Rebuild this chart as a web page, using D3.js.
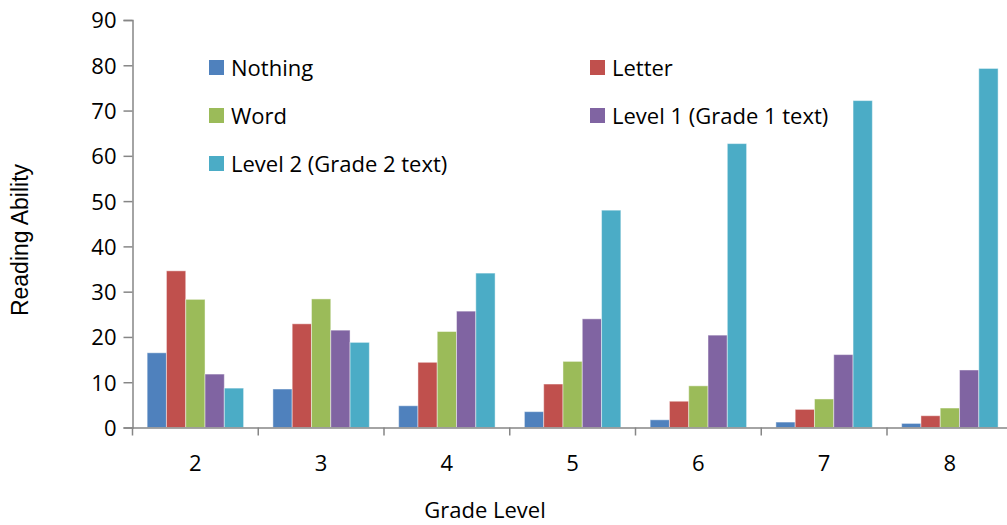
<!DOCTYPE html>
<html>
<head>
<meta charset="utf-8">
<script src="https://cdn.jsdelivr.net/npm/d3@7"></script>
<style>
  body { margin: 0; background: #fff; }
  text { font-family: "Open Sans", sans-serif; fill: #000; }
</style>
</head>
<body>
<svg id="chart"></svg>
<script>
const grades = ["2", "3", "4", "5", "6", "7", "8"];
const series = ["Nothing", "Letter", "Word", "Level 1 (Grade 1 text)", "Level 2 (Grade 2 text)"];
const colors = ["#4F81BD", "#C0504D", "#9BBB59", "#8064A2", "#4BACC6"];

const nothing = [16.5, 8.5, 4.8, 3.5, 1.7, 1.2, 0.9];
const letter  = [34.6, 22.9, 14.4, 9.6, 5.8, 4.0, 2.6];
const word    = [28.3, 28.4, 21.2, 14.6, 9.2, 6.3, 4.3];
const level1  = [11.8, 21.5, 25.7, 24.0, 20.4, 16.1, 12.7];
const level2  = [8.7, 18.8, 34.1, 48.0, 62.7, 72.2, 79.3];

const yTicks = [0, 10, 20, 30, 40, 50, 60, 70, 80, 90];

const width = 1007;
const height = 525;

const values = [nothing, letter, word, level1, level2];

// one row per grade and series
let rows = [];
grades.forEach(function(g, gi) {
    series.forEach(function(s, si) {
        rows.push({ "Grade": g, "Series": s, "Value": values[si][gi], "Color": colors[si] });
    });
});

let svg = d3.select("#chart")
    .attr("width", width)
    .attr("height", height);

// the plot runs past the right edge of the picture, as in the original
const x0 = d3.scaleBand()
    .domain(grades)
    .range([132.5, 132.5 + 7 * 125.75]);

const x1 = d3.scaleBand()
    .domain(series)
    .range([0, x0.bandwidth()])
    .paddingOuter(0.76);

const y = d3.scaleLinear()
    .domain([0, 90])
    .range([427.5, 20]);

// bars
svg.append("g")
    .selectAll("rect")
    .data(rows)
    .join("rect")
    .attr("x", function(d) { return x0(d.Grade) + x1(d.Series); })
    .attr("y", function(d) { return y(d.Value); })
    .attr("width", x1.bandwidth())
    .attr("height", function(d) { return y(0) - y(d.Value); })
    .attr("fill", function(d) { return d.Color; })
    .attr("stroke", "rgba(255,255,255,0.45)")
    .attr("stroke-width", 1);

// y axis
let yAxis = d3.axisLeft(y)
    .tickValues(yTicks)
    .tickSize(9)
    .tickPadding(7);

let ay = svg.append("g")
    .attr("transform", "translate(132.5,0)")
    .call(yAxis);
ay.select(".domain").attr("stroke", "#868686").attr("stroke-width", 1.5);
ay.selectAll(".tick line").attr("stroke", "#868686").attr("stroke-width", 1.5);
ay.selectAll(".tick text")
    .style("font-family", "'Open Sans', sans-serif")
    .style("font-size", "22px")
    .attr("dy", "0.36em");

// x axis
let xAxis = d3.axisBottom(x0)
    .tickSize(0)
    .tickPadding(0);

let ax = svg.append("g")
    .attr("transform", "translate(0,427.5)")
    .call(xAxis);
ax.select(".domain").attr("stroke", "#868686").attr("stroke-width", 1.5);
ax.selectAll(".tick text")
    .style("font-family", "'Open Sans', sans-serif")
    .style("font-size", "22px")
    .attr("y", 43)
    .attr("dy", 0);

// category separator ticks
ax.selectAll(".sep")
    .data(grades)
    .join("line")
    .attr("class", "sep")
    .attr("x1", function(d) { return x0(d); })
    .attr("x2", function(d) { return x0(d); })
    .attr("y1", 0)
    .attr("y2", 8)
    .attr("stroke", "#868686")
    .attr("stroke-width", 1.5);

// axis titles
svg.append("text")
    .attr("x", 485)
    .attr("y", 518)
    .attr("text-anchor", "middle")
    .style("font-size", "22px")
    .text("Grade Level");

svg.append("text")
    .attr("transform", "translate(28,240) rotate(-90)")
    .attr("text-anchor", "middle")
    .style("font-family", "'Liberation Sans', Arial, sans-serif")
    .style("font-size", "23px")
    .text("Reading Ability");

// legend, two columns
const legendX = [209, 590];
let legend = svg.append("g")
    .selectAll("g")
    .data(series)
    .join("g")
    .attr("transform", function(d, i) {
        return "translate(" + legendX[i % 2] + "," + (60 + Math.floor(i / 2) * 48) + ")";
    });

legend.append("rect")
    .attr("width", 15)
    .attr("height", 15)
    .attr("fill", function(d, i) { return colors[i]; });

legend.append("text")
    .attr("x", 22)
    .attr("y", 15.5)
    .style("font-size", "22px")
    .text(function(d) { return d; });
</script>
</body>
</html>
